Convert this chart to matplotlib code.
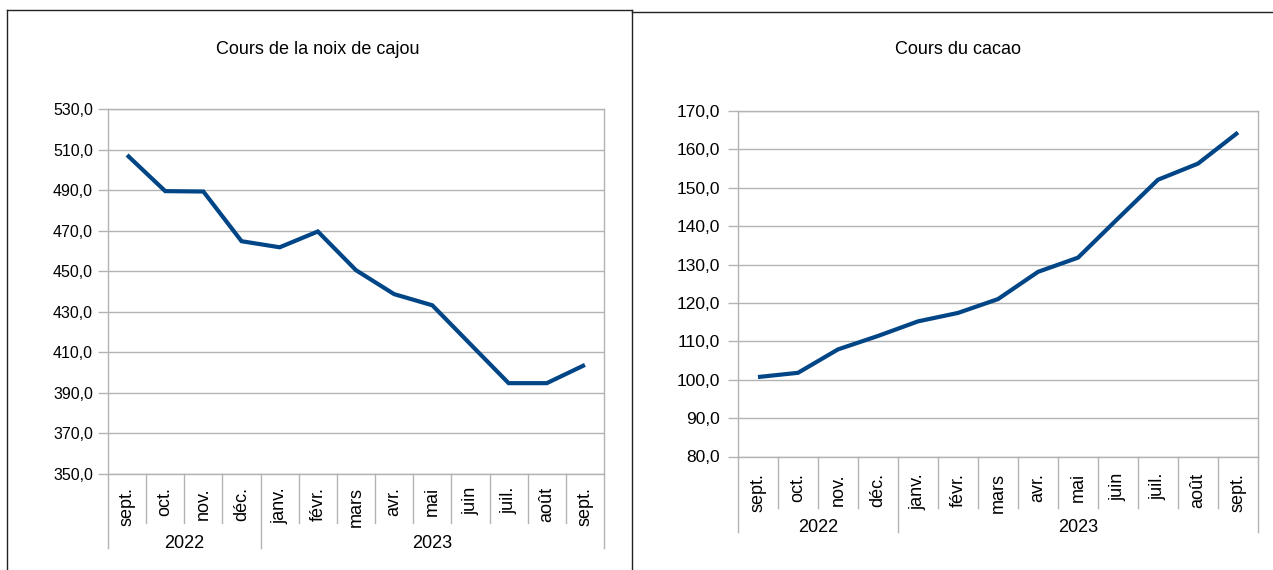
import matplotlib
matplotlib.use("Agg")
import matplotlib.pyplot as plt
from matplotlib.lines import Line2D
from matplotlib.ticker import FuncFormatter

plt.rcParams['font.family'] = ['Liberation Sans', 'DejaVu Sans']

months = ["sept.", "oct.", "nov.", "déc.", "janv.", "févr.", "mars",
          "avr.", "mai", "juin", "juil.", "août", "sept."]
years = ["2022", "2023"]
year_counts = [4, 9]

cajou = [507.3, 489.5, 489.3, 464.8, 461.8, 469.6, 450.5, 438.7, 433.2,
         414.0, 394.8, 394.8, 403.8]
cacao = [100.7, 101.8, 107.9, 111.4, 115.2, 117.4, 121.0, 128.1, 131.8,
         142.0, 152.1, 156.3, 164.4]

W, H = 1273, 570
fig = plt.figure(figsize=(W / 100, H / 100), dpi=100)
fig.patch.set_facecolor('white')

GRID = '#b3b3b3'
LINE = '#004586'


def px(x, y):
    return x / W, 1 - y / H


def make_axes(rect_px, values, ylim, step, tick_fs, month_fs, month_pad, ytick_pad,
              month_len, year_len, year_y):
    x0, y0, x1, y1 = rect_px
    h = y1 - y0
    ax = fig.add_axes([x0 / W, 1 - y1 / H, (x1 - x0) / W, h / H])
    n = len(values)
    centers = [i + 0.5 for i in range(n)]
    ax.plot(centers, values, color=LINE, lw=3.0, solid_joinstyle='miter',
            solid_capstyle='butt', zorder=3)
    ax.set_xlim(0, n)
    ax.set_ylim(*ylim)
    ticks = []
    v = ylim[0]
    while v <= ylim[1] + 1e-9:
        ticks.append(v)
        v += step
    ax.set_yticks(ticks)
    ax.yaxis.set_major_formatter(FuncFormatter(lambda v, p: f"{v:.1f}".replace('.', ',')))
    ax.grid(axis='y', color=GRID, lw=1.0)
    ax.set_axisbelow(True)
    for s in ax.spines.values():
        s.set_color(GRID)
        s.set_linewidth(1.0)
    ax.tick_params(axis='y', length=7.2, color=GRID, width=1.0, labelsize=tick_fs,
                   pad=ytick_pad, labelcolor='#000000')
    ax.set_xticks(centers)
    ax.set_xticklabels(months, rotation=90, fontsize=month_fs)
    ax.tick_params(axis='x', length=0, pad=month_pad)
    tr = ax.get_xaxis_transform()
    bounds = [0]
    for c in year_counts:
        bounds.append(bounds[-1] + c)
    for i in range(n + 1):
        ln = year_len if i in bounds else month_len
        ax.plot([i, i], [0, -ln / h], transform=tr, color=GRID, lw=1.0, clip_on=False)
    start = 0
    for yl, c in zip(years, year_counts):
        ax.text(start + c / 2, -year_y / h, yl, transform=tr, ha='center', va='center',
                fontsize=13)
        start += c
    return ax


ax1 = make_axes((108, 109, 604, 474), cajou, (350, 530), 20,
                11.5, 13, 9.5, 3.6, 49, 74, 69.5)
ax2 = make_axes((738, 111, 1258, 456.5), cacao, (80, 170), 10,
                12.5, 13, 12, 5.5, 51, 75, 71)

fig.text(*px(318, 49), "Cours de la noix de cajou", ha='center', va='center', fontsize=13)
fig.text(*px(958, 50), "Cours du cacao", ha='center', va='center', fontsize=13)

# panel borders
BORDER = '#222222'
for (xa, ya), (xb, yb) in [((7, 10), (632, 10)), ((7, 10), (7, 571)),
                           ((632, 10), (632, 571)), ((632, 11.5), (1273, 11.5))]:
    (fx0, fy0), (fx1, fy1) = px(xa, ya), px(xb, yb)
    fig.add_artist(Line2D([fx0, fx1], [fy0, fy1], transform=fig.transFigure,
                          color=BORDER, lw=1.0))

fig.savefig("out.png", dpi=100, facecolor='white')
